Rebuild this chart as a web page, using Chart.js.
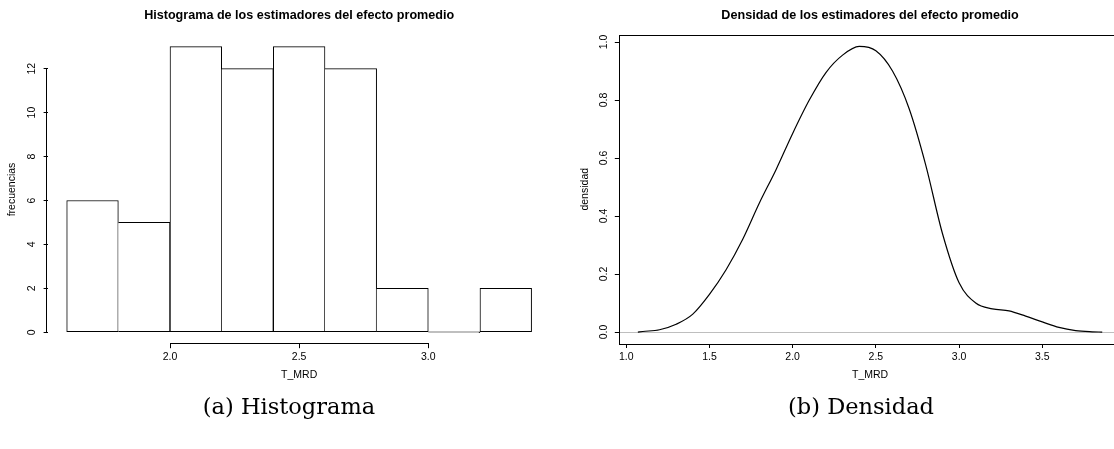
<!DOCTYPE html>
<html>
<head>
<meta charset="utf-8">
<script src="https://cdn.jsdelivr.net/npm/chart.js@4.4.1/dist/chart.umd.min.js"></script>
<style>
  html, body { margin: 0; padding: 0; background: #fff; }
  body { width: 1114px; height: 449px; overflow: hidden; position: relative; }
  canvas { position: absolute; top: 0; }
  #histChart { left: 0; }
  #densChart { left: 560px; }
  .caption {
    position: absolute; top: 394px; line-height: 24px;
    font-family: "DejaVu Serif", "Liberation Serif", serif; font-size: 22.5px;
    color: #000; white-space: nowrap; transform: translateX(-50%);
  }
</style>
</head>
<body>
<canvas id="histChart" width="560" height="400"></canvas>
<canvas id="densChart" width="580" height="400"></canvas>
<div class="caption" style="left:289px;">(a) Histograma</div>
<div class="caption" style="left:861px;">(b) Densidad</div>

<script>
// histograma
const binEdges = [1.6, 1.8, 2.0, 2.2, 2.4, 2.6, 2.8, 3.0, 3.2, 3.4];
const binCounts = [6, 5, 13, 12, 13, 12, 2, 0, 2];
const histXTicks = [2.0, 2.5, 3.0];
const histYTicks = [0, 2, 4, 6, 8, 10, 12];

// densidad
const densX = [1.07, 1.1, 1.2, 1.3, 1.4, 1.5, 1.6, 1.7, 1.8, 1.9, 2.0, 2.1, 2.2, 2.3, 2.4,
               2.5, 2.6, 2.7, 2.8, 2.9, 3.0, 3.1, 3.2, 3.3, 3.4, 3.5, 3.6, 3.7, 3.8, 3.86];
const densY = [0, 0.002, 0.008, 0.027, 0.062, 0.13, 0.215, 0.32, 0.445, 0.56, 0.685, 0.8, 0.895, 0.955, 0.985,
               0.97, 0.9, 0.77, 0.575, 0.34, 0.17, 0.1, 0.08, 0.073, 0.055, 0.035, 0.016, 0.005, 0.001, 0];
const densXTicks = [1.0, 1.5, 2.0, 2.5, 3.0, 3.5];
const densYTicks = [0, 0.2, 0.4, 0.6, 0.8, 1.0];

const SANS = '"Liberation Sans", Arial, sans-serif';
const tickFont = { family: SANS, size: 10.5 };
const mainFont = { family: SANS, size: 12.6, weight: 'bold', lineHeight: 1.2 };

// R pads the axis range by 4% on each side
function rLim(lo, hi) {
  const d = (hi - lo) * 0.04;
  return [lo - d, hi + d];
}
function align(p) { return Math.round(p - 0.5) + 0.5; }
function setTicks(vals) {
  return scale => { scale.ticks = vals.map(v => ({ value: v })); };
}

const histXLim = rLim(binEdges[0], binEdges[binEdges.length - 1]);
const histYLim = rLim(0, Math.max(...binCounts));
const densXLim = rLim(densX[0], densX[densX.length - 1]);
const densYLim = rLim(0, Math.max(...densY));

// eje tipo R: la linea solo cubre el rango de las marcas
const rAxes = {
  id: 'rAxes',
  afterDraw(chart, args, opts) {
    const { ctx, scales: { x, y } } = chart;
    ctx.save();
    ctx.fillStyle = '#000';
    ctx.strokeStyle = '#000';
    ctx.lineWidth = 1;
    if (opts.box) {
      const a = chart.chartArea;
      ctx.strokeRect(align(a.left), align(a.top), Math.round(a.right - a.left), Math.round(a.bottom - a.top));
    } else {
      const x1 = Math.round(x.getPixelForValue(histXTicks[0]) - 0.5);
      const x2 = Math.round(x.getPixelForValue(histXTicks[histXTicks.length - 1]) - 0.5);
      ctx.fillRect(x1, Math.round(x.top - 0.5), x2 - x1 + 1, 1);
      const y1 = Math.round(y.getPixelForValue(histYTicks[histYTicks.length - 1]) - 0.5);
      const y2 = Math.round(y.getPixelForValue(histYTicks[0]) - 0.5);
      ctx.fillRect(Math.round(y.right) - 2, y1, 1, y2 - y1 + 1);
    }
    ctx.restore();
  }
};

new Chart(document.getElementById('histChart'), {
  type: 'bar',
  data: {
    datasets: [{
      data: binCounts.map((c, i) => ({ x: (binEdges[i] + binEdges[i + 1]) / 2, y: c })),
      backgroundColor: '#fff',
      borderColor: '#000',
      borderSkipped: false,
      borderWidth: ctx => {
        const i = ctx.dataIndex;
        const prev = binCounts[i - 1];
        return { top: 1, bottom: 1, right: 1, left: (prev === undefined || prev < binCounts[i]) ? 1 : 0 };
      },
      minBarLength: 1,
      barPercentage: 1,
      categoryPercentage: 1
    }]
  },
  options: {
    responsive: false,
    animation: false,
    events: [],
    layout: { padding: { left: 0, right: 9.8, top: 0, bottom: 6.3 } },
    plugins: {
      legend: { display: false },
      tooltip: { enabled: false },
      title: {
        display: true,
        fullSize: false,
        text: 'Histograma de los estimadores del efecto promedio',
        color: '#000', font: mainFont,
        padding: { top: 8.4, bottom: 11.74 }
      },
      rAxes: { box: false }
    },
    scales: {
      x: {
        type: 'linear', min: histXLim[0], max: histXLim[1],
        offset: false,
        afterBuildTicks: setTicks(histXTicks),
        afterFit: s => { s.height = 50; },
        border: { display: false },
        grid: { offset: false, drawOnChartArea: false, tickLength: 4.5, tickColor: '#000' },
        ticks: { color: '#000', font: tickFont, padding: 2.8, maxRotation: 0, callback: v => v.toFixed(1) },
        title: { display: true, text: 'T_MRD', color: '#000', font: tickFont, padding: { top: 0, bottom: 11.9 } }
      },
      y: {
        type: 'linear', min: histYLim[0], max: histYLim[1],
        afterBuildTicks: setTicks(histYTicks),
        afterFit: s => { s.width = 48.1; },
        border: { display: false },
        grid: { drawOnChartArea: false, tickLength: 4.5, tickColor: '#000' },
        ticks: { color: '#000', font: tickFont, padding: 5.45, minRotation: 90, maxRotation: 90, crossAlign: 'center', callback: v => String(v) },
        title: { display: true, text: 'frecuencias', color: '#000', font: tickFont, padding: { top: 6.1, bottom: 0 } }
      }
    }
  },
  plugins: [rAxes]
});

new Chart(document.getElementById('densChart'), {
  type: 'line',
  data: {
    datasets: [{
      data: densX.map((x, i) => ({ x: x, y: densY[i] })),
      borderColor: '#000',
      borderWidth: 1.2,
      pointRadius: 0,
      fill: false,
      cubicInterpolationMode: 'monotone'
    }]
  },
  options: {
    responsive: false,
    animation: false,
    events: [],
    layout: { padding: { left: 0, right: 19.2, top: 0, bottom: 6.5 } },
    plugins: {
      legend: { display: false },
      tooltip: { enabled: false },
      title: {
        display: true,
        fullSize: false,
        text: 'Densidad de los estimadores del efecto promedio',
        color: '#000', font: mainFont,
        padding: { top: 8.4, bottom: 11.48 }
      },
      rAxes: { box: true }
    },
    scales: {
      x: {
        type: 'linear', min: densXLim[0], max: densXLim[1],
        afterBuildTicks: setTicks(densXTicks),
        afterFit: s => { s.height = 50; },
        border: { display: false },
        grid: { drawOnChartArea: false, tickLength: 4.5, tickColor: '#000' },
        ticks: { color: '#000', font: tickFont, padding: 2.8, maxRotation: 0, callback: v => v.toFixed(1) },
        title: { display: true, text: 'T_MRD', color: '#000', font: tickFont, padding: { top: 0, bottom: 11.7 } }
      },
      y: {
        type: 'linear', min: densYLim[0], max: densYLim[1],
        afterBuildTicks: setTicks(densYTicks),
        afterFit: s => { s.width = 59.3; },
        border: { display: false },
        grid: {
          drawOnChartArea: true, tickLength: 4.5, tickColor: '#000',
          color: ctx => (ctx.tick && ctx.tick.value === 0) ? '#bebebe' : 'rgba(0,0,0,0)'
        },
        ticks: { color: '#000', font: tickFont, padding: 3.0, minRotation: 90, maxRotation: 90, crossAlign: 'center', callback: v => v.toFixed(1) },
        title: { display: true, text: 'densidad', color: '#000', font: tickFont, padding: { top: 18.7, bottom: 0 } }
      }
    }
  },
  plugins: [rAxes]
});
</script>
</body>
</html>
